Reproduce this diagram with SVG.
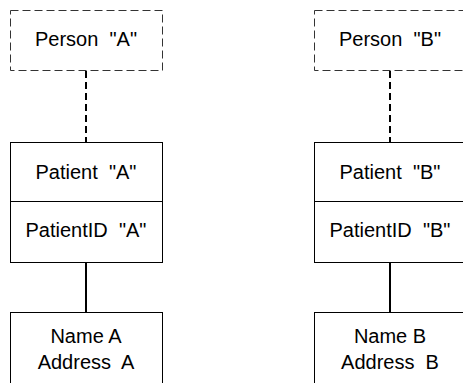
<svg xmlns="http://www.w3.org/2000/svg" width="463" height="383" viewBox="0 0 463 383">
<style>
.box{fill:#fff;stroke:#000;stroke-width:1}
.dbox{fill:#fff;stroke:#333;stroke-width:1;stroke-dasharray:8 4}
.dline{stroke:#000;stroke-width:2;stroke-dasharray:7 4;fill:none}
.line{stroke:#000;stroke-width:2;fill:none}
text{font-family:"Liberation Sans",Arial,sans-serif;font-size:20px;fill:#000;text-anchor:middle}
</style>
<rect width="463" height="383" fill="#fff"/>
<g id="connectors">
<line class="dline" x1="86" y1="71" x2="86" y2="142"/>
<line class="line" x1="86" y1="263" x2="86" y2="312"/>
<line class="dline" x1="390" y1="71" x2="390" y2="142"/>
<line class="line" x1="390" y1="263" x2="390" y2="312"/>
</g>
<g id="personA">
<rect class="dbox" x="10.5" y="10.5" width="152" height="60"/>
<text x="86" y="46" xml:space="preserve">Person  "A"</text>
</g>
<g id="patientA">
<rect class="box" x="10.5" y="142.5" width="152" height="120"/>
<line class="box" x1="10.5" y1="201.5" x2="162.5" y2="201.5"/>
<text x="86" y="179" xml:space="preserve">Patient  "A"</text>
<text x="86" y="237" xml:space="preserve">PatientID  "A"</text>
</g>
<g id="nameA">
<rect class="box" x="10.5" y="312.5" width="152" height="90"/>
<text x="86" y="343">Name A</text>
<text x="86" y="369" xml:space="preserve">Address  A</text>
</g>
<g id="personB">
<rect class="dbox" x="314.5" y="10.5" width="152" height="60"/>
<text x="390" y="46" xml:space="preserve">Person  "B"</text>
</g>
<g id="patientB">
<rect class="box" x="314.5" y="142.5" width="152" height="120"/>
<line class="box" x1="314.5" y1="201.5" x2="466.5" y2="201.5"/>
<text x="390" y="179" xml:space="preserve">Patient  "B"</text>
<text x="390" y="237" xml:space="preserve">PatientID  "B"</text>
</g>
<g id="nameB">
<rect class="box" x="314.5" y="312.5" width="152" height="90"/>
<text x="390" y="343">Name B</text>
<text x="390" y="369" xml:space="preserve">Address  B</text>
</g>
</svg>
